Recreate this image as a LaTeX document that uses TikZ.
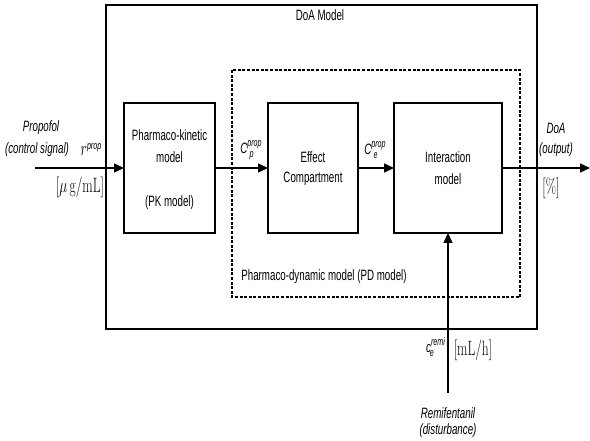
\documentclass[tikz,border=0pt]{standalone}
\usepackage[no-math]{fontspec}
\setmainfont{Liberation Sans}[FakeStretch=0.65]
\usepackage{graphicx}
\usetikzlibrary{arrows.meta}
\newcommand{\sq}[1]{\scalebox{0.65}[1]{#1}}
\begin{document}
\begin{tikzpicture}[x=1pt,y=-1pt,
  every node/.style={font=\fontsize{15}{18}\selectfont, inner sep=0pt},
  blk/.style={draw, line width=1.5pt},
  conn/.style={line width=1.5pt, -{Triangle[length=10pt,width=9pt]}},
  lbl/.style={font=\fontsize{15}{18}\selectfont\itshape}]
\useasboundingbox (0,0) rectangle (590,441);
% outer DoA box
\draw[blk] (106,5) rectangle (537,329);
\node (doam) at (320,15) {DoA Model};
% dashed PD box
\draw[line width=1.2pt, dash pattern=on 3pt off 1.6pt] (232,70) rectangle (520,297);
\node (pdl) at (324,277) {Pharmaco-dynamic model (PD model)};
% blocks
\draw[blk] (124,103) rectangle (215,233);
\coordinate (pkw) at (124,168); \coordinate (pke) at (215,168);
\node (pk1) at (169.5,135) {Pharmaco-kinetic};
\node (pk2) at (169.5,157) {model};
\node (pk3) at (169.5,203) {(PK model)};
\draw[blk] (268,103) rectangle (358,233);
\coordinate (efw) at (268,168); \coordinate (efe) at (358,168);
\node (ef1) at (313,157) {Effect};
\node (ef2) at (313,179) {Compartment};
\draw[blk] (394,103) rectangle (502,233);
\coordinate (inw) at (394,168); \coordinate (ine) at (502,168); \coordinate (ins) at (448,233);
\node (in1) at (448,157) {Interaction};
\node (in2) at (448,179) {model};
% connectors
\coordinate (src) at (35,168);
\coordinate (out) at (590,168);
\coordinate (rsrc) at (448,393);
\draw[conn] (src) -- (pkw);
\draw[conn] (pke) -- (efw);
\draw[conn] (efe) -- (inw);
\draw[conn] (ine) -- (out);
\draw[conn] (rsrc) -- (ins);
% labels
\node[lbl] (prop1) at (41,128) {Propofol};
\node[lbl] (prop2) at (37,150) {(control signal)};
\node (rprop) at (91,150) {\sq{\fontsize{22}{24}\selectfont$r$}\raisebox{6pt}{\fontsize{11}{13}\selectfont\itshape prop}};
\node (ugml) at (80,187) {\sq{\fontsize{20}{22}\selectfont$[\mu\,\mathrm{g/mL}]$}};
\node (cp) at (247,150) {\itshape C\raisebox{7pt}{\fontsize{11}{13}\selectfont prop}\hspace{-12pt}\raisebox{-4pt}{\fontsize{11}{13}\selectfont p}\hspace{10pt}};
\node (ce) at (371,150) {\itshape C\raisebox{7pt}{\fontsize{11}{13}\selectfont prop}\hspace{-12pt}\raisebox{-4pt}{\fontsize{11}{13}\selectfont e}\hspace{10pt}};
\node[lbl] (doa1) at (556,128) {DoA};
\node[lbl] (doa2) at (556,150) {(output)};
\node (pct) at (551,188) {\sq{\fontsize{20}{22}\selectfont$[\%]$}};
\node (cr) at (430,347) {\itshape c\raisebox{7pt}{\fontsize{11}{13}\selectfont remi}\hspace{-15pt}\raisebox{-4pt}{\fontsize{11}{13}\selectfont e}\hspace{13pt}};
\node (mlh) at (473,350) {\sq{\fontsize{20}{22}\selectfont$[\mathrm{mL/h}]$}};
\node[lbl] (rem1) at (448,413) {Remifentanil};
\node[lbl] (rem2) at (448,431) {(disturbance)};
\end{tikzpicture}
\end{document}
